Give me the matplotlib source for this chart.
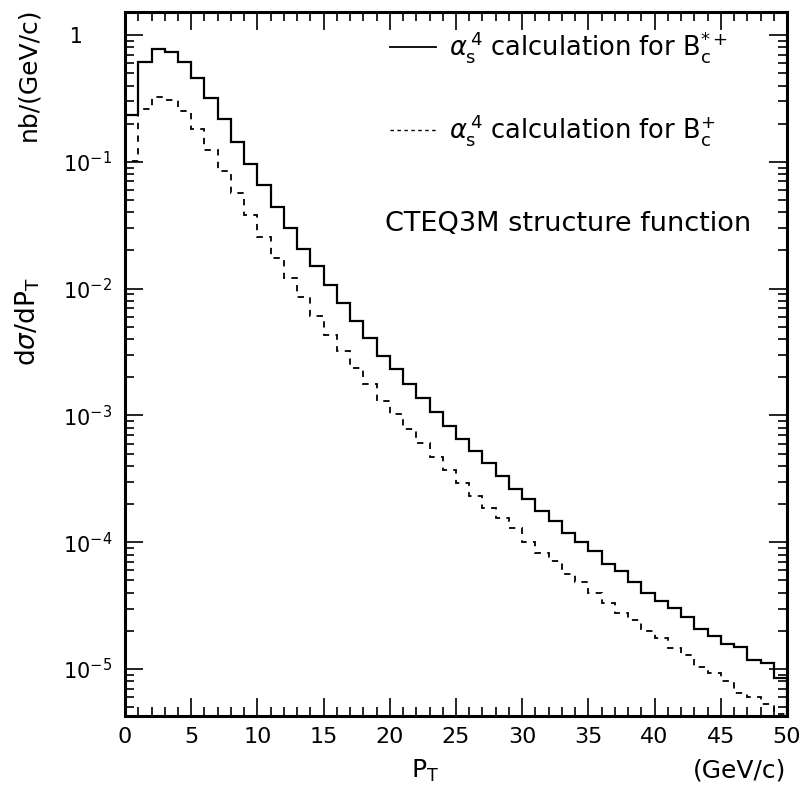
import matplotlib
matplotlib.use('Agg')
import matplotlib.pyplot as plt
import numpy as np
from matplotlib.ticker import FixedLocator, LogLocator, FuncFormatter, NullFormatter

plt.rcParams['font.family'] = ['DejaVu Sans']
plt.rcParams['mathtext.fontset'] = 'dejavusans'

# P_T bin edges (GeV/c), 1 GeV bins
pt_edges = np.arange(0, 51, 1)

# d sigma / dP_T  (nb/(GeV/c)) for B_c*+
bcstar = [0.234, 0.61, 0.77, 0.73, 0.61, 0.455, 0.317, 0.217, 0.144, 0.0956,
          0.0656, 0.044, 0.0299, 0.0206, 0.0151, 0.0107, 0.00765, 0.00556, 0.0041, 0.00296,
          0.00232, 0.00178, 0.00138, 0.00106, 0.000825, 0.000648, 0.000524, 0.000419, 0.000333, 0.000264,
          0.000218, 0.000176, 0.000146, 0.000119, 0.0001, 8.57e-5, 6.73e-5, 5.93e-5, 4.89e-5, 4.0e-5,
          3.46e-5, 3.05e-5, 2.59e-5, 2.06e-5, 1.83e-5, 1.57e-5, 1.50e-5, 1.18e-5, 1.11e-5, 8.45e-6]

# d sigma / dP_T  (nb/(GeV/c)) for B_c+
bc = [0.101, 0.261, 0.323, 0.307, 0.251, 0.181, 0.124, 0.085, 0.057, 0.038,
      0.0257, 0.0175, 0.0121, 0.00864, 0.00608, 0.00433, 0.00322, 0.00235, 0.00177, 0.00131,
      0.00102, 0.000782, 0.000603, 0.000467, 0.000373, 0.000291, 0.00023, 0.000187, 0.000154, 0.000129,
      0.0001, 8.26e-5, 7.11e-5, 5.61e-5, 4.85e-5, 4.0e-5, 3.33e-5, 2.75e-5, 2.43e-5, 2.0e-5,
      1.75e-5, 1.46e-5, 1.28e-5, 1.04e-5, 9.34e-6, 8.03e-6, 6.43e-6, 6.05e-6, 5.3e-6, 4.4e-6]

fig = plt.figure(figsize=(8.02, 7.85), dpi=100)
ax = fig.add_axes([0.1559, 0.0879, 0.8254, 0.8968])

ax.stairs(bcstar, pt_edges, color='black', lw=1.6)
ax.stairs(bc, pt_edges, color='black', lw=1.3, linestyle=(0, (3.5, 3.5)))

ax.set_yscale('log')
ax.set_xlim(0, 50)
ax.set_ylim(4.26e-6, 1.52)

ax.xaxis.set_major_locator(FixedLocator(np.arange(0, 51, 5)))
ax.xaxis.set_minor_locator(FixedLocator(np.arange(0, 51, 1)))
ax.yaxis.set_major_locator(LogLocator(base=10, numticks=20))
ax.yaxis.set_minor_locator(LogLocator(base=10, subs=np.arange(2, 10), numticks=20))
ax.yaxis.set_minor_formatter(NullFormatter())


def yfmt(v, pos):
    e = int(round(np.log10(v)))
    if e == 0:
        return ' 1'
    return r'$10^{%d}$' % e


ax.yaxis.set_major_formatter(FuncFormatter(yfmt))
ax.tick_params(which='both', direction='in', top=True, right=True, width=1.2, colors='black')
ax.tick_params(which='major', length=13)
ax.tick_params(which='minor', length=6.5)
ax.tick_params(axis='x', which='major', labelsize=16, pad=8)
ax.tick_params(axis='y', which='major', labelsize=15, pad=45)
for lbl in ax.get_yticklabels():
    lbl.set_horizontalalignment('left')
for s in ax.spines.values():
    s.set_linewidth(2.2)

fig.text(0.53, 0.018, r'P$_{\mathrm{T}}$', fontsize=18, ha='center', va='center')
fig.text(0.922, 0.018, '(GeV/c)', fontsize=18, ha='center', va='center')
fig.text(0.035, 0.59, r'd$\sigma$/dP$_{\mathrm{T}}$', fontsize=19, rotation=90,
         ha='center', va='center')
fig.text(0.035, 0.905, 'nb/(GeV/c)', fontsize=18, rotation=90, ha='center', va='center')

# legend entries drawn by hand in axes coordinates
ax.plot([0.40, 0.47], [0.950, 0.950], transform=ax.transAxes, color='black', lw=1.3)
ax.text(0.49, 0.950, r'$\alpha_{\mathrm{s}}^{\,4}$ calculation for B$_{\mathrm{c}}^{*+}$',
        transform=ax.transAxes, fontsize=18.5, va='center')
ax.plot([0.40, 0.47], [0.832, 0.832], transform=ax.transAxes, color='black', lw=1.0,
        linestyle=(0, (2.5, 2.5)))
ax.text(0.49, 0.832, r'$\alpha_{\mathrm{s}}^{\,4}$ calculation for B$_{\mathrm{c}}^{+}$',
        transform=ax.transAxes, fontsize=18.5, va='center')
ax.text(0.393, 0.699, 'CTEQ3M structure function', transform=ax.transAxes,
        fontsize=19.5, va='center')

fig.savefig('out.png', dpi=100)
